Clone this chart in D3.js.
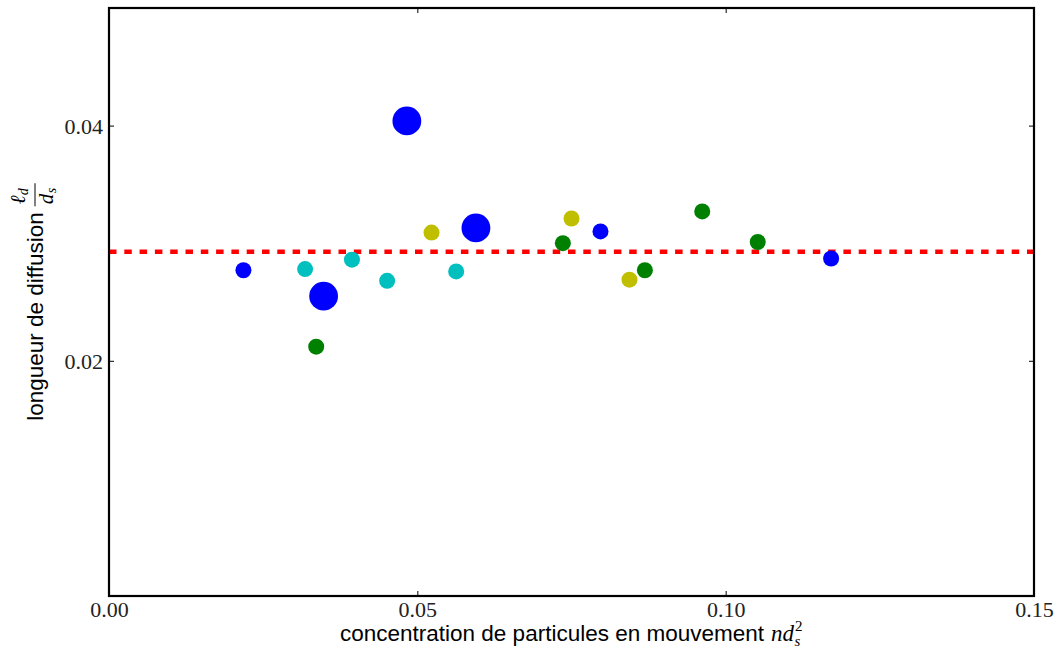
<!DOCTYPE html>
<html>
<head>
<meta charset="utf-8">
<script src="https://cdn.jsdelivr.net/npm/d3@7/dist/d3.min.js"></script>
<style>
  html, body { margin: 0; padding: 0; background: #fff; }
  svg { display: block; }
</style>
</head>
<body>
<svg id="chart" width="1056" height="648"></svg>
<script>
// ---- data ----
const xValues = [0.0218, 0.0318, 0.0348, 0.0336, 0.0394, 0.0451, 0.0483, 0.0523, 0.0563, 0.0595,
                 0.0736, 0.0750, 0.0797, 0.0844, 0.0869, 0.0962, 0.1052, 0.1171];
const yValues = [0.0277, 0.0278, 0.0255, 0.0212, 0.0286, 0.0268, 0.0404, 0.0309, 0.0276, 0.0313,
                 0.0300, 0.0321, 0.0310, 0.0269, 0.0277, 0.0327, 0.0301, 0.0287];
const groups  = ["b", "c", "b", "g", "c", "c", "b", "y", "c", "b",
                 "g", "y", "b", "y", "g", "g", "g", "b"];
const weights = [1, 1, 2, 1, 1, 1, 2, 1, 1, 2,
                 1, 1, 1, 1, 1, 1, 1, 1];
const meanValue = 0.02928;
const xTicks = [0.00, 0.05, 0.10, 0.15];
const yTicks = [0.02, 0.04];
const xDomain = [0, 0.15];
const yDomain = [0, 0.05];
const xLabelText = "concentration de particules en mouvement";
const yLabelText = "longueur de diffusion";

// ---- layout ----
const svg = d3.select("#chart");
const L = 109, R = 1034, T = 8, B = 596;
const x = d3.scaleLinear().domain(xDomain).range([L, R]);
const y = d3.scaleLinear().domain(yDomain).range([B, T]);
const color = d3.scaleOrdinal().domain(["b", "c", "g", "y"])
  .range(["#0000ff", "#00bfbf", "#008000", "#bfbf00"]);
const radius = d3.scaleOrdinal().domain([1, 2]).range([8, 14.4]);

const serif = "'Liberation Serif', 'DejaVu Serif', serif";
const sans = "'Liberation Sans', Arial, Helvetica, sans-serif";

// mean dashed line
svg.append("line")
  .attr("x1", x(xDomain[0])).attr("x2", x(xDomain[1]))
  .attr("y1", y(meanValue)).attr("y2", y(meanValue))
  .attr("stroke", "#ff0000").attr("stroke-width", 4.5)
  .attr("stroke-dasharray", "7.5 7.8");

// points
const pts = xValues.map((v, i) => ({x: v, y: yValues[i], g: groups[i], w: weights[i]}));
svg.append("g").selectAll("circle").data(pts).join("circle")
  .attr("cx", d => x(d.x)).attr("cy", d => y(d.y))
  .attr("r", d => radius(d.w))
  .attr("fill", d => color(d.g));

// axes (inside ticks on all four sides)
const tickLen = 5;
const fmt = d3.format(".2f");
const axB = d3.axisBottom(x).tickValues(xTicks).tickSizeInner(-tickLen).tickSizeOuter(0).tickFormat(fmt).tickPadding(5);
const axT = d3.axisTop(x).tickValues(xTicks).tickSizeInner(-tickLen).tickSizeOuter(0).tickFormat("");
const axLft = d3.axisLeft(y).tickValues(yTicks).tickSizeInner(-tickLen).tickSizeOuter(0).tickFormat(fmt).tickPadding(6);
const axRgt = d3.axisRight(y).tickValues(yTicks).tickSizeInner(-tickLen).tickSizeOuter(0).tickFormat("");

function style(g) {
  g.select(".domain").remove();
  g.selectAll(".tick line").attr("stroke", "#000").attr("stroke-width", 1);
  g.selectAll(".tick text").attr("fill", "#222").style("font-family", serif).style("font-size", "22px");
}
svg.append("g").attr("transform", `translate(0,${B})`).call(axB).call(style)
  .selectAll(".tick text").attr("y", 0).attr("dy", "0").attr("transform", "translate(0,617)")
  .each(function() { d3.select(this).attr("transform", null).attr("y", 617 - B); });
svg.append("g").attr("transform", `translate(0,${T})`).call(axT).call(style);
svg.append("g").attr("transform", `translate(${L},0)`).call(axLft).call(style)
  .selectAll(".tick text").attr("dy", "0.34em");
svg.append("g").attr("transform", `translate(${R},0)`).call(axRgt).call(style);

// frame
svg.append("rect").attr("x", L).attr("y", T).attr("width", R - L).attr("height", B - T)
  .attr("fill", "none").attr("stroke", "#000").attr("stroke-width", 2.2);

// ---- x label ----
const xl = svg.append("g");
const xt = xl.append("text").attr("x", 0).attr("y", 0)
  .style("font-family", sans).style("font-size", "22.5px").attr("fill", "#000")
  .text(xLabelText);
const xtLen = xt.node().getComputedTextLength() + 7;
const nd = xl.append("text").attr("x", xtLen).attr("y", 0)
  .style("font-family", serif).style("font-style", "italic").style("font-size", "23px").text("nd");
const ndLen = nd.node().getComputedTextLength();
xl.append("text").attr("x", xtLen + ndLen + 1).attr("y", -10)
  .style("font-family", serif).style("font-size", "15px").text("2");
xl.append("text").attr("x", xtLen + ndLen + 0.5).attr("y", 5)
  .style("font-family", serif).style("font-style", "italic").style("font-size", "15px").text("s");
const xTotal = xtLen + ndLen + 9;
xl.attr("transform", `translate(${(L + R) / 2 - xTotal / 2},641)`);

// ---- y label ----
const yl = svg.append("g");
const yt = yl.append("text").attr("x", 0).attr("y", 0)
  .style("font-family", sans).style("font-size", "22.5px").attr("fill", "#000")
  .text(yLabelText);
const ytLen = yt.node().getComputedTextLength();
const fx = ytLen + 6;
const fracW = 23;
// numerator
yl.append("text").attr("x", fx + 2).attr("y", -18)
  .style("font-family", serif).style("font-style", "italic").style("font-size", "21px").text("\u2113");
yl.append("text").attr("x", fx + 11).attr("y", -15)
  .style("font-family", serif).style("font-style", "italic").style("font-size", "14px").text("d");
// bar
yl.append("line").attr("x1", fx).attr("x2", fx + fracW).attr("y1", -8).attr("y2", -8)
  .attr("stroke", "#000").attr("stroke-width", 1);
// denominator
yl.append("text").attr("x", fx + 2).attr("y", 10)
  .style("font-family", serif).style("font-style", "italic").style("font-size", "21px").text("d");
yl.append("text").attr("x", fx + 13).attr("y", 13)
  .style("font-family", serif).style("font-style", "italic").style("font-size", "14px").text("s");
const yTotal = fx + fracW;
yl.attr("transform", `translate(43,${(T + B) / 2 + yTotal / 2}) rotate(-90)`);
</script>
</body>
</html>
